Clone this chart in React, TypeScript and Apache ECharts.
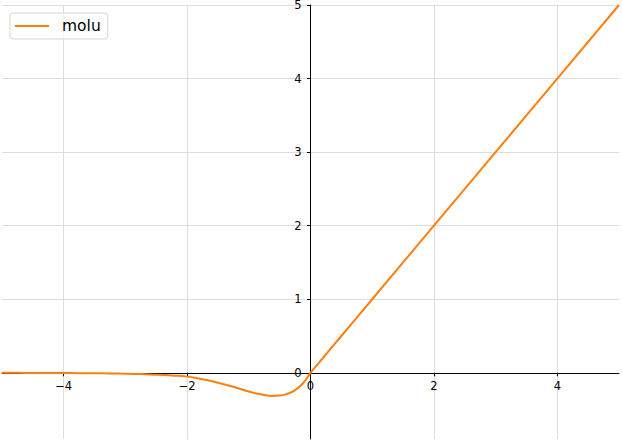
import { useEffect, useRef } from 'react';
import * as echarts from 'echarts';

const seriesName = 'molu';
const xValues = [
  -5, -4.75, -4.5, -4.25, -4, -3.75, -3.5, -3.25, -3, -2.75, -2.5, -2.25, -2,
  -1.75, -1.5, -1.25, -1, -0.875, -0.75, -0.625, -0.5, -0.375, -0.25, -0.125, 0,
  0.125, 0.25, 0.5, 1, 2, 3, 4, 5,
];
const yValues = [
  -0.001, -0.001, -0.002, -0.003, -0.004, -0.005, -0.007, -0.009, -0.013, -0.018, -0.025, -0.036, -0.052,
  -0.088, -0.135, -0.19, -0.255, -0.282, -0.302, -0.315, -0.31, -0.285, -0.235, -0.145, 0,
  0.125, 0.25, 0.5, 1, 2, 3, 4, 5,
];
const xRange = [-5, 5];
const yRange = [-0.9, 5];

const minus = (v: number) => String(v).replace('-', '\u2212');

export default function App() {
  const chartRef = useRef<HTMLDivElement>(null);

  useEffect(() => {
    if (!chartRef.current) return;
    const chart = echarts.init(chartRef.current, undefined, { renderer: 'svg' });

    chart.setOption({
      animation: false,
      textStyle: { fontFamily: 'DejaVu Sans' },
      grid: { left: 2, right: 3, top: 5, bottom: 3, containLabel: false, outerBoundsMode: 'none' },
      legend: {
        left: 10,
        top: 13,
        padding: [5, 7, 5, 5],
        itemWidth: 34,
        itemHeight: 2,
        icon: 'rect',
        borderColor: '#d6d6d6',
        borderWidth: 1,
        borderRadius: 3,
        backgroundColor: 'rgba(255,255,255,0.8)',
        textStyle: { fontSize: 15.5, color: '#000', padding: [0, 0, 0, 8] },
        data: [seriesName],
      },
      xAxis: {
        type: 'value',
        min: xRange[0],
        max: xRange[1],
        splitNumber: 5,
        axisLine: { onZero: false, lineStyle: { color: '#000', width: 1 } },
        axisTick: { length: 3.5, lineStyle: { color: '#000' } },
        axisLabel: {
          color: '#000',
          fontSize: 11.5,
          margin: 7,
          showMinLabel: false,
          showMaxLabel: false,
          formatter: minus,
        },
        splitLine: {
          show: true,
          showMinLine: false,
          showMaxLine: false,
          lineStyle: { color: '#dddddd', width: 1 },
        },
      },
      yAxis: {
        type: 'value',
        min: yRange[0],
        max: yRange[1],
        splitNumber: 6,
        axisLine: { onZero: false, lineStyle: { color: '#000', width: 1 } },
        axisTick: { length: 3.5, lineStyle: { color: '#000' } },
        axisLabel: {
          color: '#000',
          fontSize: 11.5,
          margin: 9,
          showMinLabel: false,
          formatter: minus,
        },
        splitLine: {
          show: true,
          showMinLine: false,
          lineStyle: { color: '#dddddd', width: 1 },
        },
      },
      series: [
        {
          name: seriesName,
          type: 'line',
          smooth: 0.5,
          symbol: 'none',
          lineStyle: { color: '#ff7f0e', width: 2 },
          itemStyle: { color: '#ff7f0e' },
          data: xValues.map((x, i) => [x, yValues[i]]),
        },
      ],
    });

    // move both axes (line, ticks, labels) onto the zero lines
    const origin = chart.convertToPixel({ gridIndex: 0 }, [0, 0]) as number[];
    const corner = chart.convertToPixel({ gridIndex: 0 }, [xRange[0], yRange[0]]) as number[];
    chart.setOption({
      xAxis: { offset: origin[1] - corner[1] },
      yAxis: { offset: corner[0] - origin[0] },
    });

    return () => chart.dispose();
  }, []);

  return (
    <div
      ref={chartRef}
      style={{ position: 'absolute', left: 0, top: 0, width: 622, height: 442, background: '#fff' }}
    />
  );
}
